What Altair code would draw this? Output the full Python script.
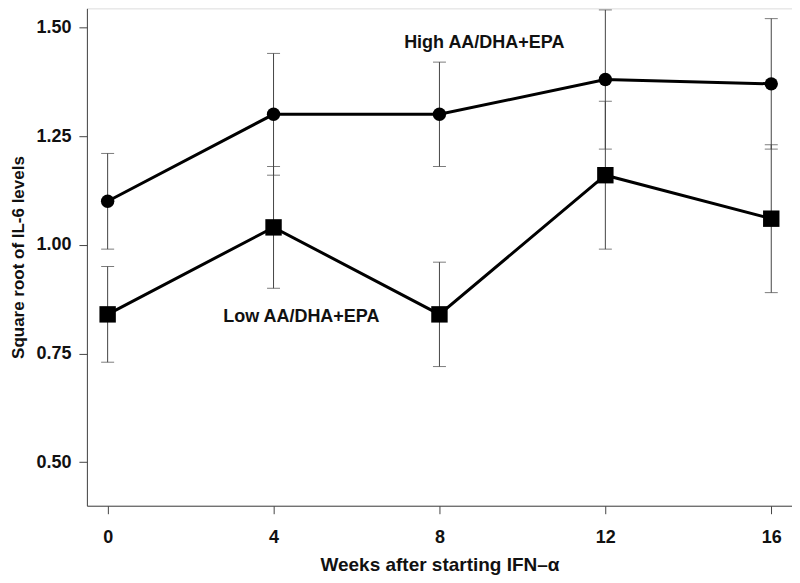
import altair as alt
import pandas as pd

weeks = [0, 4, 8, 12, 16]
high_mean = [1.10, 1.30, 1.30, 1.38, 1.37]
high_err = [0.11, 0.14, 0.12, 0.16, 0.15]
low_mean = [0.84, 1.04, 0.84, 1.16, 1.06]
low_err = [0.11, 0.14, 0.12, 0.17, 0.17]
y_ticks = [0.50, 0.75, 1.00, 1.25, 1.50]
x_ticks = [0, 4, 8, 12, 16]
label_text = ["High AA/DHA+EPA", "Low AA/DHA+EPA"]
label_x = [9.08, 4.67]
label_y = [1.464, 0.833]

rows = []
for g, m, e in (("High", high_mean, high_err), ("Low", low_mean, low_err)):
    for w, mv, ev in zip(weeks, m, e):
        rows.append({"group": g, "week": w, "mean": mv, "lo": mv - ev, "hi": mv + ev})
df = pd.DataFrame(rows)
labels = pd.DataFrame({"text": label_text, "x": label_x, "y": label_y})

FONT = "Liberation Sans"
FS = 18
xs = alt.Scale(domain=[-0.5, 16.5], nice=False, zero=False)
ys = alt.Scale(domain=[0.4, 1.5436], nice=False, zero=False)

x_axis = alt.Axis(values=x_ticks, title="Weeks after starting IFN\u2013\u03b1", grid=False,
                  tickSize=8, labelPadding=15, labelFontSize=FS, labelFont=FONT, labelFontWeight="bold",
                  titleFont=FONT, titleFontSize=19, titleFontWeight="bold", titlePadding=9,
                  domainColor="#444", tickColor="#444", labelColor="#111", titleColor="#111")
y_axis = alt.Axis(values=y_ticks, format=".2f", title="Square root of IL-6 levels", grid=False,
                  tickSize=8, labelPadding=8, labelFontSize=FS, labelFont=FONT, labelFontWeight="bold",
                  titleFont=FONT, titleFontSize=17, titleFontWeight="bold", titlePadding=8,
                  domainColor="#444", tickColor="#444", labelColor="#111", titleColor="#111")

base = alt.Chart(df)

rules = base.mark_rule(color="#444", strokeWidth=1).encode(
    x=alt.X("week:Q", scale=xs, axis=x_axis),
    y=alt.Y("lo:Q", scale=ys, axis=y_axis),
    y2="hi:Q",
)
cap_lo = base.mark_tick(orient="horizontal", color="#444", size=13, thickness=1).encode(
    x=alt.X("week:Q", scale=xs), y=alt.Y("lo:Q", scale=ys))
cap_hi = base.mark_tick(orient="horizontal", color="#444", size=13, thickness=1).encode(
    x=alt.X("week:Q", scale=xs), y=alt.Y("hi:Q", scale=ys))

lines = base.mark_line(color="black", strokeWidth=3).encode(
    x=alt.X("week:Q", scale=xs), y=alt.Y("mean:Q", scale=ys), detail="group:N")

circles = alt.Chart(df[df.group == "High"]).mark_point(
    shape="circle", filled=True, color="black", size=180, opacity=1).encode(
    x=alt.X("week:Q", scale=xs), y=alt.Y("mean:Q", scale=ys))
squares = alt.Chart(df[df.group == "Low"]).mark_point(
    shape="square", filled=True, color="black", size=270, opacity=1).encode(
    x=alt.X("week:Q", scale=xs), y=alt.Y("mean:Q", scale=ys))

texts = alt.Chart(labels).mark_text(font=FONT, fontSize=FS, fontWeight="bold", color="#111",
                                    align="center", baseline="middle").encode(
    x=alt.X("x:Q", scale=xs), y=alt.Y("y:Q", scale=ys), text="text:N")

chart = alt.layer(rules, cap_lo, cap_hi, lines, circles, squares, texts).properties(
    width=706, height=498,
    autosize=alt.AutoSizeParams(type="none"),
    padding={"left": 79, "top": 0, "right": 0, "bottom": 70},
).configure_view(stroke=None).configure(background="white")

chart.save("out.html", embed_options={"renderer": "svg", "actions": False})
